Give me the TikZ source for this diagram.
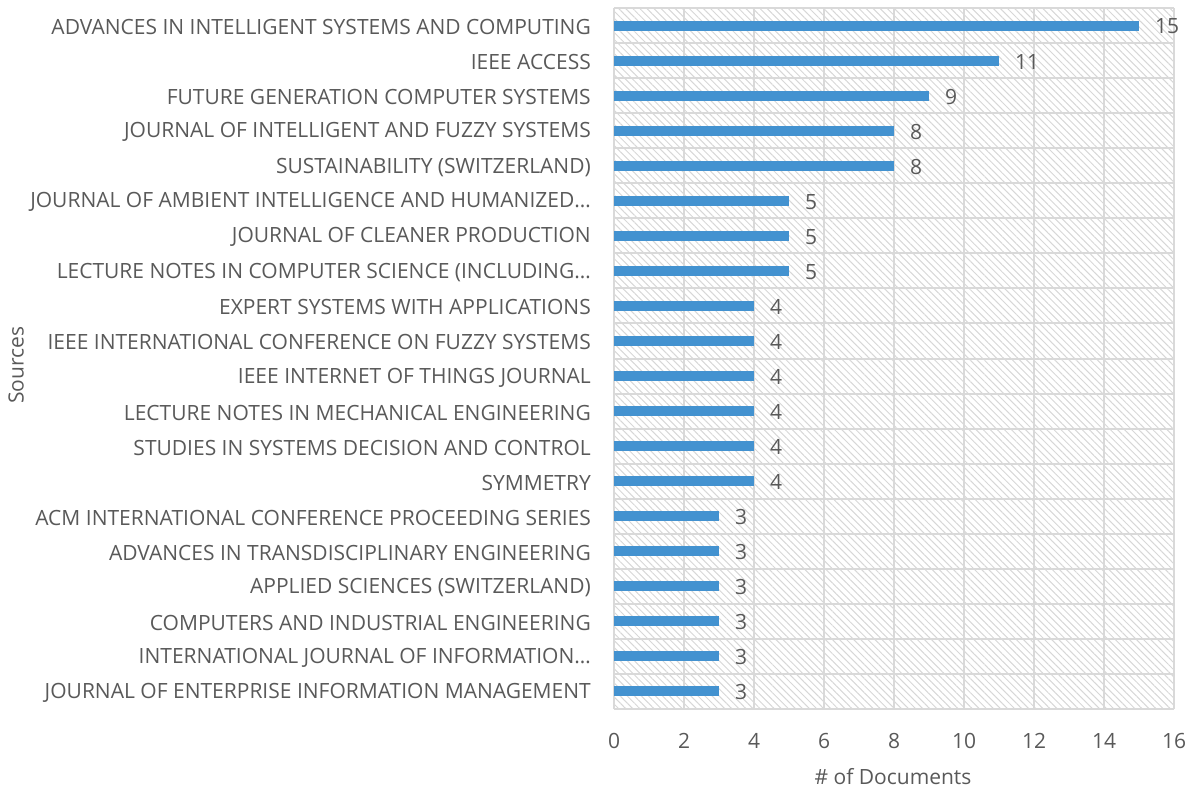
\documentclass[tikz,border=0pt]{standalone}
\usepackage{fontspec}
\setmainfont{Open Sans}
\usetikzlibrary{patterns.meta}
\definecolor{txt}{RGB}{89,89,89}
\definecolor{gridc}{RGB}{217,217,217}
\definecolor{hatchc}{RGB}{215,215,215}
\definecolor{barc}{RGB}{67,146,208}
\tikzset{
  lab/.style={anchor=east, inner sep=0pt, text=txt, font=\fontsize{21}{22}\selectfont},
  val/.style={anchor=west, inner sep=0pt, text=txt, font=\fontsize{21}{22}\selectfont},
  tick/.style={anchor=center, inner sep=0pt, text=txt, font=\fontsize{21}{22}\selectfont},
  gridline/.style={draw=gridc, line width=2pt},
  barbox/.style={fill=barc, draw=none}
}
\begin{document}
\begin{tikzpicture}[x=1pt,y=-1pt]
\useasboundingbox (0,0) rectangle (1192,790);
\fill[pattern={Lines[angle=-45,distance=5pt,line width=1pt]}, pattern color=hatchc] (614,8) rectangle (1174,709);
\foreach \k in {0,...,20} {\draw[gridline] (614,{8+35.05*\k}) -- (1174,{8+35.05*\k});}
\foreach \k in {0,...,8} {\draw[gridline] ({614+70*\k},8) -- ({614+70*\k},709);}
\foreach \i/\v/\t in {
0/15/ADVANCES IN INTELLIGENT SYSTEMS AND COMPUTING,
1/11/IEEE ACCESS,
2/9/FUTURE GENERATION COMPUTER SYSTEMS,
3/8/JOURNAL OF INTELLIGENT AND FUZZY SYSTEMS,
4/8/SUSTAINABILITY (SWITZERLAND),
5/5/JOURNAL OF AMBIENT INTELLIGENCE AND HUMANIZED…,
6/5/JOURNAL OF CLEANER PRODUCTION,
7/5/LECTURE NOTES IN COMPUTER SCIENCE (INCLUDING…,
8/4/EXPERT SYSTEMS WITH APPLICATIONS,
9/4/IEEE INTERNATIONAL CONFERENCE ON FUZZY SYSTEMS,
10/4/IEEE INTERNET OF THINGS JOURNAL,
11/4/LECTURE NOTES IN MECHANICAL ENGINEERING,
12/4/STUDIES IN SYSTEMS DECISION AND CONTROL,
13/4/SYMMETRY,
14/3/ACM INTERNATIONAL CONFERENCE PROCEEDING SERIES,
15/3/ADVANCES IN TRANSDISCIPLINARY ENGINEERING,
16/3/APPLIED SCIENCES (SWITZERLAND),
17/3/COMPUTERS AND INDUSTRIAL ENGINEERING,
18/3/INTERNATIONAL JOURNAL OF INFORMATION…,
19/3/JOURNAL OF ENTERPRISE INFORMATION MANAGEMENT} {
  \pgfmathsetmacro{\yc}{25.5+35.05*\i}
  \pgfmathsetmacro{\xe}{614+35*\v}
  \node[lab] (l\i) at (591,\yc+1.5) {\t};
  \fill[barbox] (614,\yc-5) rectangle (\xe,\yc+5);
  \node[val] (v\i) at (\xe+16,\yc+1) {\v};
}
\foreach \k in {0,...,8} {\pgfmathtruncatemacro{\n}{2*\k}\node[tick] (t\k) at ({614+70*\k},741) {\n};}
\node[tick] (xt) at (893,777) {\# of Documents};
\node[tick, rotate=90] (yt) at (16,365) {Sources};
\end{tikzpicture}
\end{document}
